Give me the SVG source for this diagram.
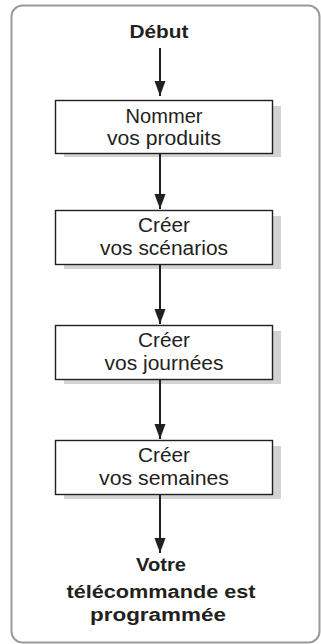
<svg xmlns="http://www.w3.org/2000/svg" width="321" height="644" viewBox="0 0 321 644">
<defs>
<style>
.frame{fill:#fff;stroke:#9a9a9a;stroke-width:2}
.shadow{fill:#d3d3d3}
.box{fill:#fff;stroke:#231f20;stroke-width:1.4}
.t{font-family:"Liberation Sans",Arial,sans-serif;font-size:20px;fill:#231f20;text-anchor:middle}
.b{font-family:"Liberation Sans",Arial,sans-serif;font-size:18px;font-weight:bold;fill:#231f20;text-anchor:middle}
.conn{stroke:#231f20;stroke-width:2;fill:none}
</style>
<marker id="arr" markerWidth="16" markerHeight="12" refX="15" refY="6" orient="auto" markerUnits="userSpaceOnUse" viewBox="0 0 16 12">
<path d="M0,0.5 L15,6 L0,11.5 Z" fill="#231f20"/>
</marker>
</defs>
<rect class="frame" x="11.5" y="5.5" width="308" height="637" rx="11"/>
<g id="start"><text class="b" x="159" y="37.5" textLength="59" lengthAdjust="spacingAndGlyphs">Début</text></g>
<g id="n1">
<rect class="shadow" x="64" y="106" width="217" height="51"/>
<rect class="box" x="55.5" y="100.5" width="217" height="53"/>
<text class="t" x="164" y="122.5" textLength="77" lengthAdjust="spacingAndGlyphs">Nommer</text>
<text class="t" x="164" y="145" textLength="114" lengthAdjust="spacingAndGlyphs">vos produits</text>
</g>
<g id="n2">
<rect class="shadow" x="64" y="216" width="217" height="53"/>
<rect class="box" x="55.5" y="210.5" width="217" height="54"/>
<text class="t" x="164" y="232" textLength="52" lengthAdjust="spacingAndGlyphs">Créer</text>
<text class="t" x="164" y="255" textLength="128" lengthAdjust="spacingAndGlyphs">vos scénarios</text>
</g>
<g id="n3">
<rect class="shadow" x="64" y="331" width="217" height="53"/>
<rect class="box" x="55.5" y="325.5" width="217" height="54"/>
<text class="t" x="164" y="347" textLength="52" lengthAdjust="spacingAndGlyphs">Créer</text>
<text class="t" x="164" y="370" textLength="119" lengthAdjust="spacingAndGlyphs">vos journées</text>
</g>
<g id="n4">
<rect class="shadow" x="64" y="446" width="217" height="53"/>
<rect class="box" x="55.5" y="440.5" width="217" height="54"/>
<text class="t" x="164" y="462" textLength="52" lengthAdjust="spacingAndGlyphs">Créer</text>
<text class="t" x="164" y="485" textLength="130" lengthAdjust="spacingAndGlyphs">vos semaines</text>
</g>
<g id="end">
<text class="b" x="161" y="571" textLength="50" lengthAdjust="spacingAndGlyphs">Votre</text>
<text class="b" x="161" y="598" textLength="189" lengthAdjust="spacingAndGlyphs">télécommande est</text>
<text class="b" x="158" y="621" textLength="136" lengthAdjust="spacingAndGlyphs">programmée</text>
</g>
<g id="connectors">
<line class="conn" x1="160" y1="48" x2="160" y2="96" marker-end="url(#arr)"/>
<line class="conn" x1="160" y1="154" x2="160" y2="209" marker-end="url(#arr)"/>
<line class="conn" x1="160" y1="265" x2="160" y2="324" marker-end="url(#arr)"/>
<line class="conn" x1="160" y1="380" x2="160" y2="439" marker-end="url(#arr)"/>
<line class="conn" x1="160" y1="495" x2="160" y2="553" marker-end="url(#arr)"/>
</g>
</svg>
